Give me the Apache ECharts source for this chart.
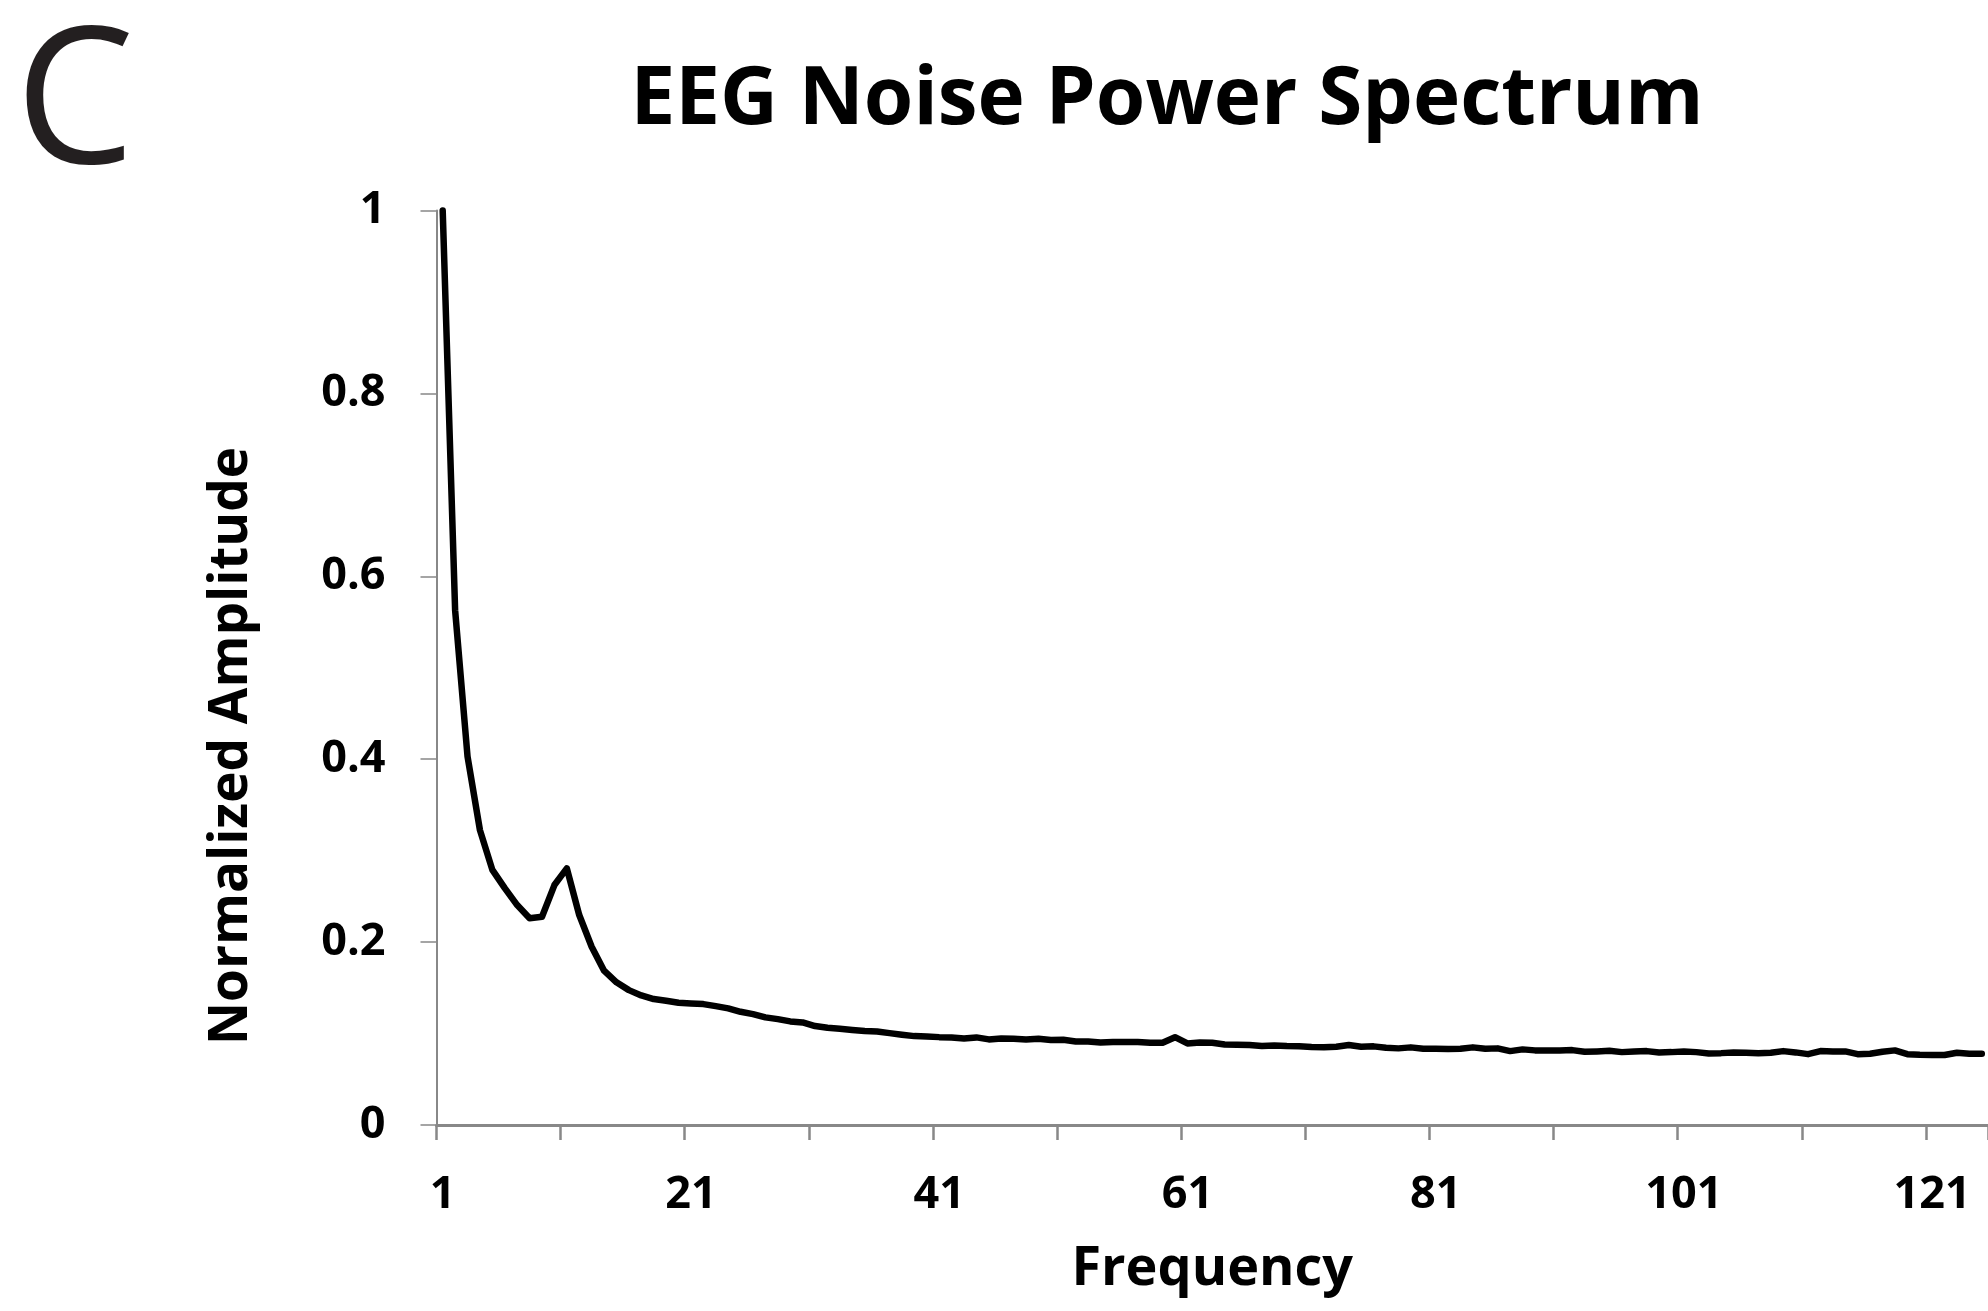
<!DOCTYPE html>
<html>
<head>
<meta charset="utf-8">
<title>EEG Noise Power Spectrum</title>
<script src="https://cdn.jsdelivr.net/npm/echarts@6.0.0/dist/echarts.min.js"></script>
<style>
    html, body { margin: 0; padding: 0; background: #fff; }
    #main { width: 1988px; height: 1311px; }
</style>
</head>
<body>
<div id="main"></div>
<script>
// 频率 1..125 (横轴类目)
let freqs = [];
for (let f = 1; f <= 125; f++) freqs.push(String(f));

// 归一化幅值, 从图上读出来的
let amplitude = [
    1.0, 0.563, 0.403, 0.3225, 0.279, 0.259, 0.2405, 0.226, 0.2277, 0.2624,
    0.2806, 0.2296, 0.1949, 0.1687, 0.156, 0.1475, 0.1417, 0.1377, 0.1359, 0.1337,
    0.133, 0.1322, 0.130, 0.1275, 0.1238, 0.1213, 0.1177, 0.1158, 0.1133, 0.1122,
    0.1082, 0.1063, 0.1052, 0.1038, 0.1027, 0.1023, 0.1005, 0.0987, 0.0972, 0.0969,
    0.0961, 0.0958, 0.0947, 0.0958, 0.0936, 0.0947, 0.0943, 0.0936, 0.0943, 0.0929,
    0.0932, 0.0914, 0.0914, 0.0903, 0.0907, 0.0907, 0.0907, 0.0899, 0.0899, 0.096,
    0.0892, 0.0903, 0.0899, 0.0881, 0.0877, 0.0874, 0.0863, 0.087, 0.0863, 0.086,
    0.0852, 0.0849, 0.0855, 0.0874, 0.0855, 0.086, 0.0844, 0.0838, 0.0849, 0.0833,
    0.0833, 0.083, 0.0833, 0.0849, 0.0833, 0.0838, 0.0808, 0.0827, 0.0816, 0.0816,
    0.0816, 0.0819, 0.0801, 0.0805, 0.0812, 0.0797, 0.0805, 0.0808, 0.0794, 0.0797,
    0.0805, 0.0797, 0.0783, 0.0786, 0.0794, 0.079, 0.0786, 0.079, 0.0808, 0.0794,
    0.0775, 0.0808, 0.0805, 0.0805, 0.0775, 0.0779, 0.0801, 0.0816, 0.0775, 0.0768,
    0.0765, 0.0765, 0.079, 0.0779, 0.0779
];

// 纵轴刻度
let yTicks = [0, 0.2, 0.4, 0.6, 0.8, 1];

let axisGray = '#888888';
let font = 'Open Sans';

let myChart = echarts.init(document.getElementById('main'), null, { renderer: 'canvas' });
let option = {
    backgroundColor: '#ffffff',
    animation: false,
    title: {
        text: 'EEG Noise Power Spectrum',
        left: 1162,
        top: 56,
        textAlign: 'center',
        textStyle: {
            fontFamily: font,
            fontSize: 80,
            fontWeight: 'bold',
            color: '#000'
        }
    },
    graphic: [
        {   // 左上角的面板字母
            type: 'text',
            left: 15,
            top: 14,
            style: {
                text: 'C',
                font: '400 190px "Open Sans"',
                fill: '#231f20'
            }
        },
        {   // 纵轴标题, 位置比网格中心偏下
            type: 'text',
            x: 232,
            y: 746,
            rotation: Math.PI / 2,
            style: {
                text: 'Normalized Amplitude',
                font: 'bold 53px "Open Sans"',
                fill: '#000',
                align: 'center',
                verticalAlign: 'middle'
            }
        }
    ],
    grid: {
        left: 436.5,
        right: 0,
        top: 210.6,
        bottom: 186,
        containLabel: false,
        outerBoundsMode: 'none'
    },
    xAxis: {
        type: 'category',
        data: freqs,
        boundaryGap: true,
        name: 'Frequency',
        nameLocation: 'middle',
        nameGap: 118,
        nameMoveOverlap: false,
        nameTextStyle: {
            fontFamily: font,
            fontSize: 54,
            fontWeight: 'bold',
            color: '#000'
        },
        axisLine: { lineStyle: { color: axisGray, width: 3 } },
        axisTick: {
            show: true,
            interval: 9,     // 每10个频点一根刻度
            length: 15,
            lineStyle: { color: axisGray, width: 2.5 }
        },
        axisLabel: {
            interval: 19,    // 标签 1, 21, 41 ...
            margin: 48,
            fontFamily: font,
            fontSize: 45,
            fontWeight: 'bold',
            color: '#000'
        },
        splitLine: { show: false }
    },
    yAxis: {
        type: 'value',
        min: yTicks[0],
        max: yTicks[yTicks.length - 1],
        interval: 0.2,
        axisLine: { show: true, lineStyle: { color: axisGray, width: 2 } },
        axisTick: { show: true, length: 16, lineStyle: { color: axisGray, width: 1.5 } },
        axisLabel: {
            margin: 51,
            fontFamily: font,
            fontSize: 45,
            fontWeight: 'bold',
            color: '#000'
        },
        splitLine: { show: false }
    },
    series: [{
        name: 'EEG noise',
        type: 'line',
        data: amplitude,
        showSymbol: false,
        symbol: 'none',
        smooth: false,
        clip: false,
        lineStyle: { color: '#000', width: 6.5, cap: 'round', join: 'round' }
    }]
};
myChart.setOption(option);
</script>
</body>
</html>
